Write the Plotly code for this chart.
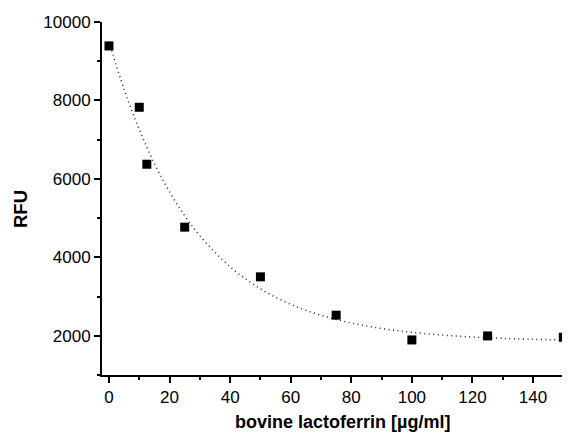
import plotly.graph_objects as go

# Measured data points
conc = [0, 10, 12.5, 25, 50, 75, 100, 125, 150]
rfu = [9390, 7826, 6374, 4769, 3503, 2525, 1894, 1996, 1962]

# Fitted curve values
fit_x = [0, 5, 10, 15, 20, 25, 30, 40, 50, 60, 70, 80, 90, 100, 115, 130, 150]
fit_y = [9500, 8281, 7260, 6394, 5670, 5061, 4550, 3758, 3198, 2802, 2523, 2326,
         2186, 2088, 1991, 1934, 1892]

x_ticks = [0, 20, 40, 60, 80, 100, 120, 140]
y_ticks = [2000, 4000, 6000, 8000, 10000]

FONT = "Liberation Sans, Arial, sans-serif"

fig = go.Figure()
fig.add_trace(go.Scatter(
    x=fit_x, y=fit_y, mode="lines",
    line=dict(color="#222222", width=1.5, dash="1px,3.5px", shape="spline"),
    hoverinfo="skip", showlegend=False,
))
fig.add_trace(go.Scatter(
    x=conc, y=rfu, mode="markers",
    marker=dict(symbol="square", size=9, color="black"),
    cliponaxis=False, showlegend=False,
))

axis_common = dict(
    showgrid=False, zeroline=False, showline=True, linecolor="black", linewidth=2,
    ticks="outside", tickcolor="black", tickwidth=2, ticklen=6, automargin=False,
    tickfont=dict(family=FONT, size=17, color="black"),
)

fig.update_xaxes(
    **axis_common,
    range=[-2.3, 152.2],
    tickvals=x_ticks, ticktext=[str(v) for v in x_ticks],
    minor=dict(dtick=10, tick0=0, ticks="outside", ticklen=3, tickwidth=1.5, tickcolor="black"),
)
fig.update_yaxes(
    **axis_common,
    range=[1000, 10000],
    tickvals=y_ticks, ticktext=[str(v) for v in y_ticks],
    minor=dict(dtick=1000, tick0=0, ticks="outside", ticklen=3, tickwidth=1.5, tickcolor="black"),
)

# page has an 8px body margin; figure sized to fill the 570x434 window
W, H = 562, 426
ML, MT, MB = 94, 14, 59
plot_w = W - ML
plot_h = H - MT - MB

fig.add_annotation(
    text="<b>bovine lactoferrin [µg/ml]</b>", showarrow=False,
    xref="paper", yref="paper",
    x=(342 - 8 - ML) / plot_w, y=-(422 - 8 - MT - plot_h) / plot_h,
    xanchor="center", yanchor="middle",
    font=dict(family=FONT, size=18, color="black"),
)
fig.add_annotation(
    text="<b>RFU</b>", showarrow=False, textangle=-90,
    xref="paper", yref="paper",
    x=-(ML - (20 - 8)) / plot_w, y=1 - (209 - 8 - MT) / plot_h,
    xanchor="center", yanchor="middle",
    font=dict(family=FONT, size=18.5, color="black"),
)

fig.update_layout(
    width=W, height=H,
    margin=dict(l=ML, r=0, t=MT, b=MB),
    paper_bgcolor="white", plot_bgcolor="white",
    font=dict(family=FONT, color="black"),
)

fig.write_html("out.html")
